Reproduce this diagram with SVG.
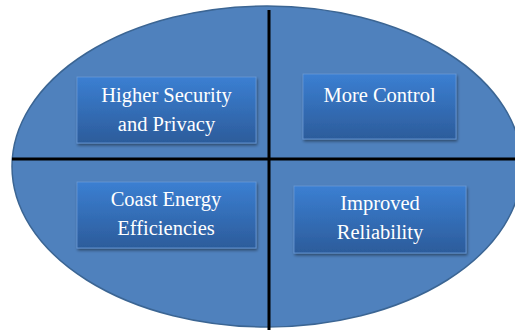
<svg xmlns="http://www.w3.org/2000/svg" width="515" height="330" viewBox="0 0 515 330">
  <defs>
    <linearGradient id="boxGrad" x1="0" y1="0" x2="0" y2="1">
      <stop offset="0" stop-color="#3b7fd2"/>
      <stop offset="1" stop-color="#2c5c9b"/>
    </linearGradient>
    <filter id="shadow" x="-10%" y="-10%" width="125%" height="130%">
      <feGaussianBlur in="SourceAlpha" stdDeviation="1.5"/>
      <feOffset dx="1" dy="2" result="b"/>
      <feComponentTransfer><feFuncA type="linear" slope="0.45"/></feComponentTransfer>
      <feMerge><feMergeNode/><feMergeNode in="SourceGraphic"/></feMerge>
    </filter>
  </defs>
  <style>
    .box { fill: url(#boxGrad); stroke: #6a9ad6; stroke-width: 0.8; filter: url(#shadow); }
    .lbl { font-family: "Liberation Serif", "Times New Roman", serif; font-size: 20.5px; fill: #ffffff; text-anchor: middle; }
    .div { stroke: #000000; stroke-width: 3; }
  </style>
  <rect width="515" height="330" fill="#ffffff"/>
  <g id="ellipse">
    <ellipse cx="267" cy="166.5" rx="255" ry="160.5" fill="#4f81bd" stroke="#3b6593" stroke-width="1.5"/>
  </g>
  <g id="connectors">
    <line class="div" x1="269" y1="10" x2="269" y2="330"/>
    <line class="div" x1="12" y1="159" x2="515" y2="159"/>
  </g>
  <g id="node-security">
    <rect class="box" x="77" y="77" width="179" height="66"/>
    <text class="lbl" x="166.5" y="102">Higher Security</text>
    <text class="lbl" x="166.5" y="130.5">and Privacy</text>
  </g>
  <g id="node-control">
    <rect class="box" x="303" y="74" width="153" height="65"/>
    <text class="lbl" x="379.5" y="101.5">More Control</text>
  </g>
  <g id="node-energy">
    <rect class="box" x="77" y="182" width="179" height="66"/>
    <text class="lbl" x="166" y="206">Coast Energy</text>
    <text class="lbl" x="166" y="235">Efficiencies</text>
  </g>
  <g id="node-reliability">
    <rect class="box" x="294" y="186" width="172" height="67"/>
    <text class="lbl" x="380" y="210">Improved</text>
    <text class="lbl" x="380" y="238.5">Reliability</text>
  </g>
</svg>
